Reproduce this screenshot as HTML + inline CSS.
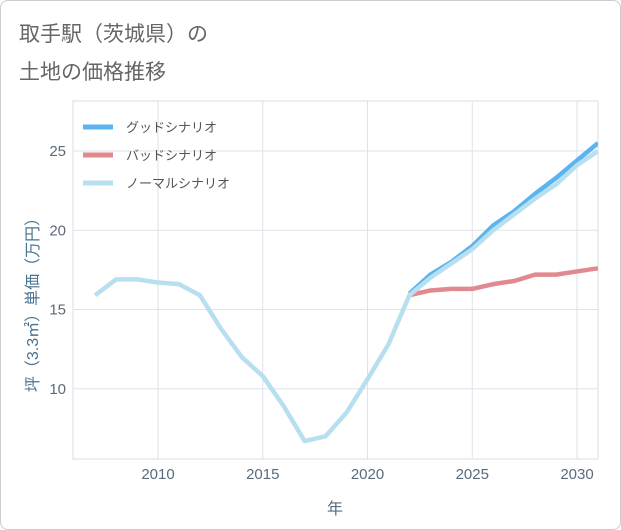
<!DOCTYPE html>
<html><head><meta charset="utf-8"><style>
body{margin:0;background:#fff;font-family:"Liberation Sans","Noto Sans CJK JP",sans-serif;}
#wrap{position:relative;width:619px;height:528px;border:1px solid #ccc;border-radius:8px;overflow:hidden;}
</style></head><body>
<div id="wrap">
<svg id="c" width="621" height="530"></svg>
</div>
<script>
const years=[2007,2008,2009,2010,2011,2012,2013,2014,2015,2016,2017,2018,2019,2020,2021,2022,2023,2024,2025,2026,2027,2028,2029,2030,2031];
const normalVals=[15.9,16.9,16.9,16.7,16.6,15.9,13.8,12.0,10.8,8.9,6.7,7.0,8.5,10.6,12.8,15.9,17.0,17.9,18.8,20.0,21.0,22.0,22.9,24.1,25.0];
const goodYears=[2022,2023,2024,2025,2026,2027,2028,2029,2030,2031];
const goodVals=[16.0,17.2,18.0,19.0,20.3,21.2,22.3,23.3,24.4,25.5];
const badVals=[15.9,16.2,16.3,16.3,16.6,16.8,17.2,17.2,17.4,17.6];
const xTicks=[2010,2015,2020,2025,2030];
const yTicks=[10,15,20,25];
const NS="http://www.w3.org/2000/svg";
const svg=document.getElementById('c');
const L=72,R=597,T=100,B=458;
const x=v=>157+(v-2010)*20.95;
const y=v=>150+(25-v)*15.85;
function mk(tag,attrs,name){const e=document.createElementNS(NS,tag);for(const k in attrs)e.setAttribute(k,attrs[k]);


svg.appendChild(e);return e;}
function txt(s,attrs,name){const e=mk('text',attrs,name);e.textContent=s;return e;}
txt('取手駅（茨城県）の',{x:18,y:40,'font-size':21,fill:'#666'},'title-line-1');
txt('土地の価格推移',{x:18,y:78,'font-size':21,fill:'#666'},'title-line-2');
mk('rect',{x:L,y:T,width:R-L,height:B-T,fill:'#fff',stroke:'#ddd'},'plot-area');
xTicks.forEach(t=>{mk('line',{x1:x(t),x2:x(t),y1:T,y2:B,stroke:'#dde3ea'},'x-grid-'+t);
txt(String(t),{x:x(t),y:478,'text-anchor':'middle','font-size':15,fill:'#5a6b7c'},'x-tick-'+t);});
yTicks.forEach(t=>{mk('line',{x1:L,x2:R,y1:y(t),y2:y(t),stroke:'#dde3ea'},'y-grid-'+t);
txt(String(t),{x:65,y:y(t)+5,'text-anchor':'end','font-size':15,fill:'#5a6b7c'},'y-tick-'+t);});
txt('年',{x:334,y:513,'text-anchor':'middle','font-size':16,fill:'#5a6b7c'},'x-axis-title');
txt('坪（3.3㎡）単価（万円）',{x:0,y:0,'text-anchor':'middle','font-size':16,fill:'#4a7390',transform:'translate(37,300) rotate(-90)'},'y-axis-title');
function line(xs,vs,col,name){mk('path',{d:xs.map((v,i)=>(i?'L':'M')+x(v)+','+y(vs[i])).join(''),fill:'none',stroke:col,'stroke-width':4.5,'stroke-linejoin':'round','clip-path':'url(#clip)'},name);}
const defs=mk('defs',{},'defs');const cp=document.createElementNS(NS,'clipPath');cp.setAttribute('id','clip');
const cr=document.createElementNS(NS,'rect');cr.setAttribute('x',L);cr.setAttribute('y',T);cr.setAttribute('width',R-L);cr.setAttribute('height',B-T);cp.appendChild(cr);defs.appendChild(cp);
line(goodYears,badVals,'#e08a8f','bad-scenario-line');
line(goodYears,goodVals,'#5ab4ef','good-scenario-line');
line(years,normalVals,'#b8dff0','normal-scenario-line');
[['グッドシナリオ','#5ab4ef'],['バッドシナリオ','#e08a8f'],['ノーマルシナリオ','#b8dff0']].forEach((e,i)=>{
const yy=126+i*28;mk('line',{x1:82,x2:112,y1:yy,y2:yy,stroke:e[1],'stroke-width':5},'legend-swatch-'+i);
txt(e[0],{x:125,y:yy+5,'font-size':13,fill:'#555'},'legend-entry-'+i);});
</script>
</body></html>
